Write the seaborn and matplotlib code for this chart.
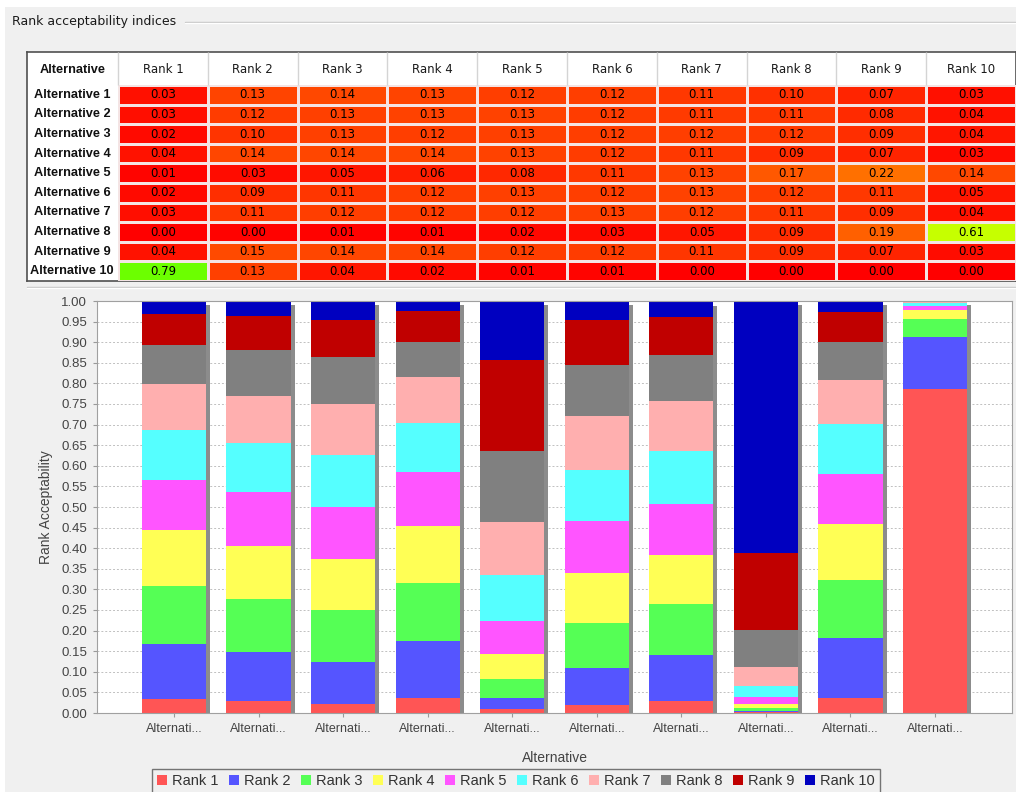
import numpy as np
import pandas as pd
import matplotlib
matplotlib.use("Agg")
import matplotlib.pyplot as plt
import matplotlib.transforms as mtransforms
from matplotlib.colors import ListedColormap, hsv_to_rgb
from matplotlib.lines import Line2D
from matplotlib.patches import Patch
import seaborn as sns

# rank acceptability per alternative (Rank 1 .. Rank 10)
alt_1 = [0.034, 0.133, 0.142, 0.134, 0.122, 0.123, 0.110, 0.096, 0.074, 0.032]
alt_2 = [0.030, 0.118, 0.128, 0.130, 0.130, 0.120, 0.114, 0.110, 0.084, 0.036]
alt_3 = [0.022, 0.103, 0.126, 0.122, 0.128, 0.124, 0.124, 0.116, 0.090, 0.044]
alt_4 = [0.037, 0.138, 0.140, 0.140, 0.130, 0.120, 0.110, 0.086, 0.074, 0.026]
alt_5 = [0.010, 0.026, 0.046, 0.062, 0.080, 0.110, 0.130, 0.172, 0.222, 0.142]
alt_6 = [0.020, 0.090, 0.108, 0.122, 0.126, 0.124, 0.130, 0.124, 0.110, 0.046]
alt_7 = [0.028, 0.112, 0.124, 0.120, 0.124, 0.128, 0.122, 0.110, 0.092, 0.038]
alt_8 = [0.002, 0.004, 0.007, 0.009, 0.017, 0.027, 0.046, 0.089, 0.188, 0.611]
alt_9 = [0.037, 0.146, 0.140, 0.136, 0.122, 0.120, 0.108, 0.092, 0.072, 0.027]
alt_10 = [0.787, 0.126, 0.044, 0.020, 0.010, 0.008, 0.003, 0.001, 0.001, 0.000]

alternatives = [f"Alternative {i}" for i in range(1, 11)]
ranks = [f"Rank {i}" for i in range(1, 11)]
tick_labels = ["Alternati..."] * 10

# JFreeChart default series paints
rank_colors = ["#FF5555", "#5555FF", "#55FF55", "#FFFF55", "#FF55FF",
               "#55FFFF", "#FFAFAF", "#808080", "#C00000", "#0000C0"]

df = pd.DataFrame([alt_1, alt_2, alt_3, alt_4, alt_5, alt_6, alt_7, alt_8, alt_9, alt_10],
                  index=alternatives, columns=ranks)

W, H = 1016, 792
BG = "#F0F0F0"

sns.set_style("white")
plt.rcParams["font.family"] = ["DejaVu Sans"]

fig = plt.figure(figsize=(W / 100, H / 100), dpi=100)
fig.patch.set_facecolor("white")
fig.add_artist(plt.Rectangle((5 / W, 0), 1, 1 - 7 / H, transform=fig.transFigure,
                             facecolor=BG, edgecolor="none", zorder=-10))

# panel title with groove line
fig.text(12 / W, 1 - 22 / H, "Rank acceptability indices", fontsize=9,
         ha="left", va="center", color="#1A1A1A")
fig.add_artist(Line2D([185 / W, 1], [1 - 21.5 / H] * 2, color="#C4C4C4", lw=1))
fig.add_artist(Line2D([185 / W, 1], [1 - 22.5 / H] * 2, color="white", lw=1))
fig.add_artist(Line2D([27 / W, 1], [1 - 286.5 / H] * 2, color="#C4C4C4", lw=1))
fig.add_artist(Line2D([27 / W, 1], [1 - 287.5 / H] * 2, color="white", lw=1))

# ---- table ----
ax_tbl = fig.add_axes([27 / W, 1 - 281 / H, (W - 27) / W, (281 - 52) / H])
ax_tbl.set_facecolor("white")
ax_tbl.set_xticks([])
ax_tbl.set_yticks([])
for s in ax_tbl.spines.values():
    s.set_color("#505050")
    s.set_linewidth(1.2)

hues = np.linspace(0, 1 / 3, 256)
hsv = np.stack([hues, np.ones_like(hues), np.ones_like(hues)], axis=1)
cmap = ListedColormap(hsv_to_rgb(hsv))

ax_hm = fig.add_axes([118 / W, 1 - 281 / H, (W - 118) / W, 196 / H])
sns.heatmap(df, ax=ax_hm, cmap=cmap, vmin=0, vmax=1, annot=True, fmt=".2f",
            cbar=False, linewidths=0.8, linecolor="#F4E4E4",
            annot_kws={"fontsize": 8.5, "color": "black"})
ax_hm.xaxis.tick_top()
ax_hm.set_xticklabels(ranks, fontsize=8.5, color="#1A1A1A")
ax_hm.set_yticklabels(alternatives, rotation=0, fontsize=9.2, fontweight="bold",
                      ha="center", color="#111111", family=["Liberation Sans", "DejaVu Sans"])
ax_hm.tick_params(axis="x", length=0, pad=6.5)
ax_hm.tick_params(axis="y", length=0, pad=33)
ax_hm.set_xlabel("")
ax_hm.set_ylabel("")
ax_hm.vlines(np.arange(0, 10), 1, 1 + 33 / 196, transform=ax_hm.get_xaxis_transform(),
             colors="#D4D4D4", lw=1, clip_on=False)
fig.text(72.5 / W, 1 - 70 / H, "Alternative", fontsize=9.2, fontweight="bold",
         ha="center", va="center", color="#111111", family=["Liberation Sans", "DejaVu Sans"])

# ---- stacked bar chart ----
plt.rcParams["font.family"] = ["Liberation Sans", "DejaVu Sans"]
ax = fig.add_axes([97 / W, 1 - 713 / H, 915 / W, 412 / H])
ax.set_facecolor("white")

cum = df.cumsum(axis=1)

# bar shadows (offset right/down as in JFreeChart)
n0 = len(ax.patches)
sns.barplot(x=list(range(10)), y=cum["Rank 10"].values,
            color="#8C8C8C", width=0.76, saturation=1, linewidth=0, ax=ax)
offset = mtransforms.ScaledTranslation(4 / 100, -4 / 100, fig.dpi_scale_trans)
for p in ax.patches[n0:]:
    p.set_transform(ax.transData + offset)
    p.set_zorder(1)

for k in range(9, -1, -1):
    n0 = len(ax.patches)
    sns.barplot(x=list(range(10)), y=cum[ranks[k]].values, color=rank_colors[k],
                width=0.76, saturation=1, linewidth=0, ax=ax)
    for p in ax.patches[n0:]:
        p.set_zorder(2)

ax.set_xlim(-0.91, 9.91)
ax.set_ylim(0, 1.0)
yt = np.round(np.arange(0, 1.0001, 0.05), 2)
ax.set_yticks(yt)
ax.set_yticklabels([f"{v:.2f}" for v in yt], fontsize=9.5, color="#444444")
ax.set_xticks(range(10))
ax.set_xticklabels(tick_labels, fontsize=9, color="#444444")
ax.tick_params(axis="both", length=3, width=0.8, color="#999999", direction="out",
               left=True, bottom=True, pad=4)
ax.yaxis.grid(True, color="#C0C0C0", lw=0.7, ls=(0, (2, 2)))
ax.set_axisbelow(True)
for name, s in ax.spines.items():
    s.set_color("#A0A0A0")
    s.set_linewidth(0.8)
ax.set_xlabel("Alternative", fontsize=10, color="#444444", labelpad=12)
ax.set_ylabel("Rank Acceptability", fontsize=10, color="#444444", labelpad=6)

handles = [Patch(facecolor=c, edgecolor="none") for c in rank_colors]
leg = fig.legend(handles, ranks, loc="upper center", bbox_to_anchor=(516 / W, 1 - 762 / H),
                 ncol=10, fontsize=10.5, frameon=True, handlelength=0.7, handleheight=0.7,
                 handletextpad=0.35, columnspacing=0.7, borderpad=0.35, fancybox=False,
                 labelcolor="#333333")
leg.get_frame().set_edgecolor("#555555")
leg.get_frame().set_facecolor(BG)
leg.get_frame().set_linewidth(1.0)

fig.savefig("out.png", dpi=100)
